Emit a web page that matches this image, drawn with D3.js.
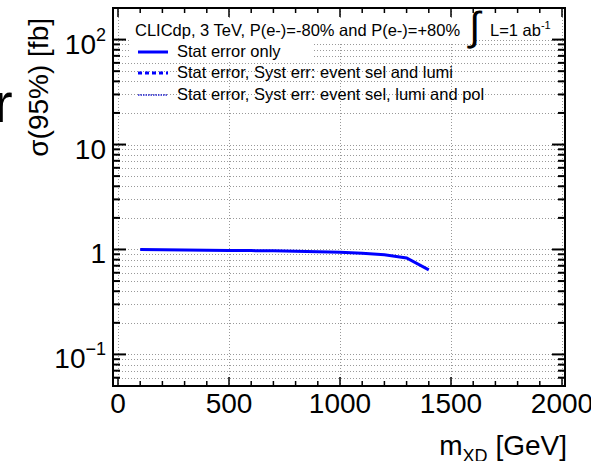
<!DOCTYPE html>
<html>
<head>
<meta charset="utf-8">
<script src="https://cdn.jsdelivr.net/npm/d3@7"></script>
<style>
body { margin: 0; background: #fff; }
text { font-family: "Liberation Sans", Arial, Helvetica, sans-serif; fill: #000; }
</style>
</head>
<body>
<div id="chart"></div>
<script>

// data
var massGeV = [100, 200, 300, 400, 500, 600, 700, 800, 900, 1000, 1100, 1200, 1300, 1400];
var statOnly = [1.00, 0.995, 0.99, 0.985, 0.98, 0.975, 0.97, 0.96, 0.95, 0.94, 0.92, 0.89, 0.83, 0.64];
var xTickValues = [0, 500, 1000, 1500, 2000];
var yMajorValues = [0.1, 1, 10, 100];
var yTickLabels = [["10", "\u22121"], ["1", ""], ["10", ""], ["10", "2"]];
var legendHeader = "CLICdp, 3 TeV, P(e-)=-80% and P(e-)=+80%";
var legendLabels = ["Stat error only", "Stat error, Syst err: event sel and lumi", "Stat error, Syst err: event sel, lumi and pol"];

var w = 591;
var h = 461;
var fLeft = 113, fRight = 565, fTop = 8, fBottom = 386;

var svg = d3.select("#chart")
            .append("svg")
            .attr("width", w)
            .attr("height", h);

var x = d3.scaleLinear().domain([-22.5, 2013.5]).range([fLeft, fRight]);
var y = d3.scaleLog().domain([0.05, 200]).range([fBottom, fTop]);

// minor ticks of the log axis
var yMinor = [];
[0.01, 0.1, 1, 10, 100].forEach(function(d) {
    for (var k = 2; k <= 9; k++) {
        var v = +(d * k).toPrecision(3);
        if (v >= 0.05 && v < 200) yMinor.push(v);
    }
});
var xMinor = d3.range(0, 2001, 100).filter(function(d) { return d % 500 != 0; });

// grid
var grid = svg.append("g")
    .attr("stroke", "#999")
    .attr("stroke-width", 1)
    .attr("stroke-dasharray", "1,2");

grid.selectAll("line.h")
    .data(yMajorValues.concat(yMinor))
    .enter()
    .append("line")
    .attr("x1", fLeft)
    .attr("x2", fRight)
    .attr("y1", function(d) { return Math.round(y(d)) + 0.5; })
    .attr("y2", function(d) { return Math.round(y(d)) + 0.5; });

grid.selectAll("line.v")
    .data(xTickValues)
    .enter()
    .append("line")
    .attr("x1", function(d) { return Math.round(x(d)) + 0.5; })
    .attr("x2", function(d) { return Math.round(x(d)) + 0.5; })
    .attr("y1", fTop)
    .attr("y2", fBottom);

// legend backgrounds (they hide the grid in the picture)
svg.append("rect").attr("x", 131).attr("y", 20).attr("width", 344).attr("height", 22).attr("fill", "#fff");
svg.append("rect").attr("x", 131).attr("y", 42).attr("width", 182).attr("height", 18).attr("fill", "#fff");

// curve
var line = d3.line()
    .x(function(d, i) { return x(massGeV[i]); })
    .y(function(d) { return y(d); });

svg.append("path")
    .datum(statOnly)
    .attr("d", line)
    .attr("fill", "none")
    .attr("stroke", "#0000ff")
    .attr("stroke-width", 3);

// frame and ticks
var frame = svg.append("g").attr("stroke", "#000");

frame.append("rect")
    .attr("x", fLeft)
    .attr("y", fTop)
    .attr("width", fRight - fLeft)
    .attr("height", fBottom - fTop)
    .attr("fill", "none")
    .attr("stroke-width", 2);

function yTicks(vals, len) {
    frame.selectAll(null)
        .data(vals)
        .enter()
        .append("line")
        .attr("x1", fLeft).attr("x2", fLeft + len)
        .attr("y1", function(d) { return y(d); })
        .attr("y2", function(d) { return y(d); })
        .attr("stroke-width", 2);
    frame.selectAll(null)
        .data(vals)
        .enter()
        .append("line")
        .attr("x1", fRight).attr("x2", fRight - len)
        .attr("y1", function(d) { return y(d); })
        .attr("y2", function(d) { return y(d); })
        .attr("stroke-width", 2);
}
yTicks(yMajorValues, 13);
yTicks(yMinor, 7);

function xTicks(vals, len) {
    frame.selectAll(null)
        .data(vals)
        .enter()
        .append("line")
        .attr("x1", function(d) { return x(d); })
        .attr("x2", function(d) { return x(d); })
        .attr("y1", fBottom).attr("y2", fBottom - len)
        .attr("stroke-width", 1.5);
    frame.selectAll(null)
        .data(vals)
        .enter()
        .append("line")
        .attr("x1", function(d) { return x(d); })
        .attr("x2", function(d) { return x(d); })
        .attr("y1", fTop).attr("y2", fTop + len)
        .attr("stroke-width", 1.5);
}
xTicks(xTickValues, 9);
xTicks(xMinor, 5);

// tick labels
svg.selectAll("text.xl")
    .data(xTickValues)
    .enter()
    .append("text")
    .attr("x", function(d) { return x(d); })
    .attr("y", 413)
    .attr("text-anchor", "middle")
    .style("font-size", "28px")
    .text(function(d) { return d; });

var yl = svg.selectAll("text.yl")
    .data(yMajorValues)
    .enter()
    .append("text")
    .attr("x", 106)
    .attr("y", function(d) { return y(d) + 14; })
    .attr("text-anchor", "end")
    .style("font-size", "28px");
yl.append("tspan").text(function(d, i) { return yTickLabels[i][0]; });
yl.append("tspan")
    .attr("dy", -13)
    .style("font-size", "18px")
    .text(function(d, i) { return yTickLabels[i][1]; });

// axis titles
var xt = svg.append("text")
    .attr("x", 567)
    .attr("y", 455)
    .attr("text-anchor", "end")
    .style("font-size", "28px");
xt.append("tspan").text("m");
xt.append("tspan").attr("dy", 7).style("font-size", "18px").text("XD");
xt.append("tspan").attr("dy", -7).text(" [GeV]");

svg.append("text")
    .attr("transform", "translate(48,18) rotate(-90)")
    .attr("text-anchor", "end")
    .style("font-size", "28px")
    .text("\u03c3(95%) [fb]");

// stray letter cut at the left edge
svg.append("text")
    .attr("x", -6)
    .attr("y", 122)
    .style("font-size", "56px")
    .text("r");

// legend
svg.append("text")
    .attr("x", 135)
    .attr("y", 36)
    .style("font-size", "16.5px")
    .text(legendHeader);

svg.append("text")
    .attr("x", 469)
    .attr("y", 40)
    .style("font-size", "40px")
    .text("\u222b");

var lum = svg.append("text")
    .attr("x", 490)
    .attr("y", 36)
    .style("font-size", "16.5px");
lum.append("tspan").text("L=1 ab");
lum.append("tspan").attr("dy", -7).style("font-size", "11px").text("-1");

var legendStyles = [
    { dash: null, width: 3, color: "#0000ff" },
    { dash: "4,3", width: 3, color: "#0000ff" },
    { dash: "1.5,1", width: 1.5, color: "#2020d0" }
];
var legendY = [52, 73, 95];

svg.selectAll("line.leg")
    .data(legendLabels)
    .enter()
    .append("line")
    .attr("x1", 138)
    .attr("x2", 168)
    .attr("y1", function(d, i) { return legendY[i]; })
    .attr("y2", function(d, i) { return legendY[i]; })
    .attr("stroke", function(d, i) { return legendStyles[i].color; })
    .attr("stroke-width", function(d, i) { return legendStyles[i].width; })
    .attr("stroke-dasharray", function(d, i) { return legendStyles[i].dash; });

svg.selectAll("text.leg")
    .data(legendLabels)
    .enter()
    .append("text")
    .attr("x", 177)
    .attr("y", function(d, i) { return legendY[i] + 5; })
    .style("font-size", "16.5px")
    .text(function(d) { return d; });

</script>
</body>
</html>
